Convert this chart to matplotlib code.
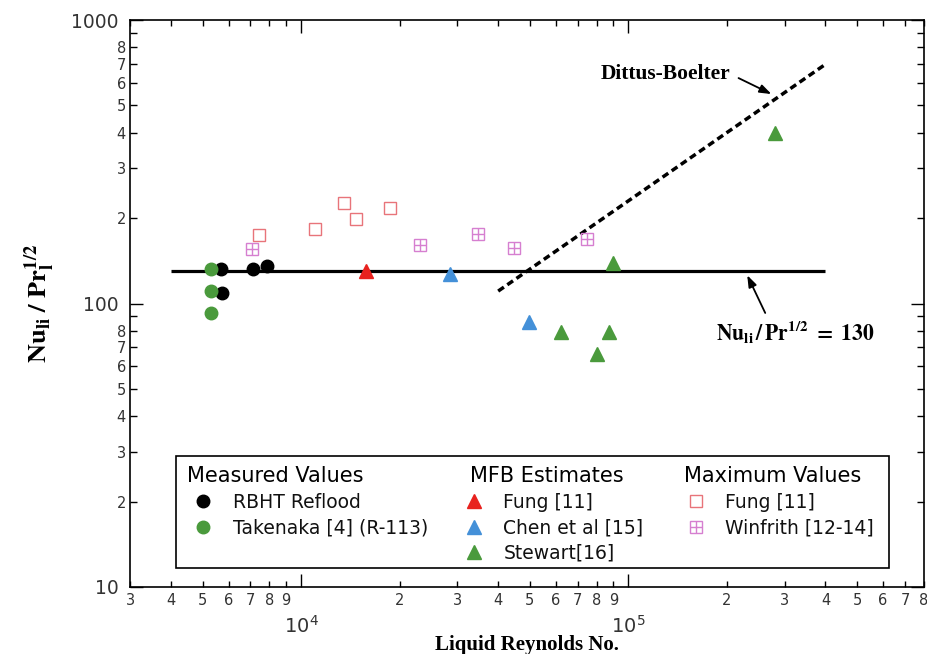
import matplotlib
matplotlib.use('Agg')
import matplotlib.pyplot as plt
from matplotlib.patches import Rectangle

# ---------------- data ----------------
rbht_re = [5700, 5750, 7150, 7850]
rbht_nu = [132, 108.5, 132, 135.5]
tak_re = [5300, 5300, 5300]
tak_nu = [132, 110.5, 92.5]
mfb_fung_re = [15800]
mfb_fung_nu = [130]
chen_re = [28400, 49700]
chen_nu = [127.5, 86.2]
stewart_re = [62100, 80200, 87100, 89800, 281000]
stewart_nu = [79.3, 66.2, 79.3, 139, 399]
max_fung_re = [7450, 11000, 13560, 14720, 18670]
max_fung_nu = [174.6, 183, 225.5, 199, 216.8]
winfrith_re = [7100, 23100, 34800, 44800, 74500]
winfrith_nu = [155.6, 161, 175.8, 157.4, 169.3]
const_re = [4000, 400000]
const_nu = [130, 130]
db_re = [40000, 400000]
db_nu = [110.6, 698]

legend_headers = ['Measured Values', 'MFB Estimates', 'Maximum Values']
measured_labels = ['RBHT Reflood', 'Takenaka [4] (R-113)']
mfb_labels = ['Fung [11]', 'Chen et al [15]', 'Stewart[16]']
max_labels = ['Fung [11]', 'Winfrith [12-14]']

x_major = [1e4, 1e5]
x_major_labels = [r'$\mathdefault{10^{4}}$', r'$\mathdefault{10^{5}}$']
x_minor = [3e3, 4e3, 5e3, 6e3, 7e3, 8e3, 9e3,
           2e4, 3e4, 4e4, 5e4, 6e4, 7e4, 8e4, 9e4,
           2e5, 3e5, 4e5, 5e5, 6e5, 7e5, 8e5]
x_minor_labels = ['3', '4', '5', '6', '7', '8', '9',
                  '2', '3', '4', '5', '6', '7', '8', '9',
                  '2', '3', '4', '5', '6', '7', '8']
y_major = [10, 100, 1000]
y_major_labels = ['10', '100', '1000']
y_minor = [20, 30, 40, 50, 60, 70, 80, 90, 200, 300, 400, 500, 600, 700, 800, 900]
y_minor_labels = ['2', '3', '4', '5', '6', '7', '8', '',
                  '2', '3', '4', '5', '6', '7', '8', '']

# ---------------- style ----------------
BLACK = '#000000'
GREEN = '#4A9A3C'
RED = '#E8221E'
BLUE = '#4490D8'
SALMON = '#E8747A'
PINK = '#D67FD0'
TICKC = '#333333'

fig = plt.figure(figsize=(9.28, 6.54), dpi=100)
ax = fig.add_axes([130/928, 1-587/654, 794/928, 567/654])
ax.set_xscale('log')
ax.set_yscale('log')
ax.set_xlim(3000, 8e5)
ax.set_ylim(10, 1000)

# reference lines
ax.plot(const_re, const_nu, color=BLACK, lw=2.3, solid_capstyle='butt', zorder=2)
ax.plot(db_re, db_nu, color=BLACK, lw=2.5, ls=(0, (2.0, 1.2)), zorder=2)

# data
h_rbht, = ax.plot(rbht_re, rbht_nu, 'o', color=BLACK, ms=9, ls='none', zorder=5)
h_tak, = ax.plot(tak_re, tak_nu, 'o', color=GREEN, ms=9, ls='none', zorder=5)
h_mfung, = ax.plot(mfb_fung_re, mfb_fung_nu, '^', color=RED, ms=10, ls='none', zorder=5)
h_chen, = ax.plot(chen_re, chen_nu, '^', color=BLUE, ms=10, ls='none', zorder=5)
h_stew, = ax.plot(stewart_re, stewart_nu, '^', color=GREEN, ms=10, ls='none', zorder=5)
h_xfung, = ax.plot(max_fung_re, max_fung_nu, 's', mfc='none', mec=SALMON, mew=1.0,
                   ms=9, ls='none', zorder=5)
h_win_sq, = ax.plot(winfrith_re, winfrith_nu, 's', mfc='none', mec=PINK, mew=1.0,
                    ms=8.5, ls='none', zorder=5)
h_win_pl, = ax.plot(winfrith_re, winfrith_nu, '+', color=PINK, mew=1.0,
                    ms=8.5, ls='none', zorder=5)

# ticks
ax.set_xticks(x_major, x_major_labels)
ax.set_xticks(x_minor, x_minor_labels, minor=True)
ax.set_yticks(y_major, y_major_labels)
ax.set_yticks(y_minor, y_minor_labels, minor=True)
ax.tick_params(which='both', direction='in', top=True, right=True,
               labelcolor=TICKC, width=1.0)
ax.tick_params(axis='x', which='major', length=9.5, pad=20, labelsize=14)
ax.tick_params(axis='x', which='minor', length=4.5, pad=4, labelsize=10.5)
ax.tick_params(axis='y', which='major', length=9.5, pad=8, labelsize=13.5)
ax.tick_params(axis='y', which='minor', length=5, pad=3, labelsize=10.5)
for s in ax.spines.values():
    s.set_linewidth(1.2)

# axis labels
ax.set_xlabel('Liquid Reynolds No.', fontfamily='Liberation Serif',
              fontweight='bold', fontsize=15)
ax.xaxis.set_label_coords(0.5, -0.085)
ax.set_ylabel(r'$\mathbf{Nu_{li}\ /\ Pr_{l}^{1/2}}$', fontsize=19,
              math_fontfamily='stix')
ax.yaxis.set_label_coords(-0.114, 0.5)
ax.yaxis.label.set_verticalalignment('center')

# annotations
ax.text(82500, 645, 'Dittus-Boelter', fontfamily='Liberation Serif',
        fontweight='bold', fontsize=15.5, ha='left', va='center')
ax.annotate('', xy=(2.735e5, 548), xytext=(2.17e5, 624),
            arrowprops=dict(arrowstyle='-|>,head_length=0.7,head_width=0.25',
                            color=BLACK, lw=1.3, shrinkA=0, shrinkB=0))
ax.text(1.854e5, 73.8, r'$\mathbf{Nu_{li}\,/\,Pr^{1/2}\ =\ 130}$',
        math_fontfamily='stix', fontsize=15.5, ha='left', va='baseline')
ax.annotate('', xy=(2.307e5, 125.8), xytext=(2.618e5, 92.6),
            arrowprops=dict(arrowstyle='-|>,head_length=0.7,head_width=0.25',
                            color=BLACK, lw=1.3, shrinkA=0, shrinkB=0))

# legend box
ax.add_patch(Rectangle((0.0576, 0.033), 0.898, 0.1986, transform=ax.transAxes,
                       fc='white', ec=BLACK, lw=1.2, zorder=6))
for xh, txt in zip([0.0722, 0.4282, 0.6977], legend_headers):
    ax.text(xh, 0.1857, txt, transform=ax.transAxes, fontsize=15,
            va='baseline', ha='left', zorder=7)

leg_kw = dict(loc='upper left', frameon=False, fontsize=13.5, borderpad=0,
              borderaxespad=0, handlelength=1.2, handletextpad=0.96,
              labelspacing=0.34, bbox_transform=ax.transAxes)
leg1 = ax.legend([h_rbht, h_tak], measured_labels,
                 bbox_to_anchor=(0.0781, 0.1658), **leg_kw)
ax.add_artist(leg1)
leg2 = ax.legend([h_mfung, h_chen, h_stew], mfb_labels,
                 bbox_to_anchor=(0.4191, 0.1658), **leg_kw)
ax.add_artist(leg2)
leg3 = ax.legend([h_xfung, (h_win_sq, h_win_pl)], max_labels,
                 bbox_to_anchor=(0.6983, 0.1658), **leg_kw)
for lg in (leg1, leg2, leg3):
    lg.set_zorder(8)
    for t in lg.get_texts():
        t.set_color('#111111')

fig.savefig('out.png', dpi=100, facecolor='white')
